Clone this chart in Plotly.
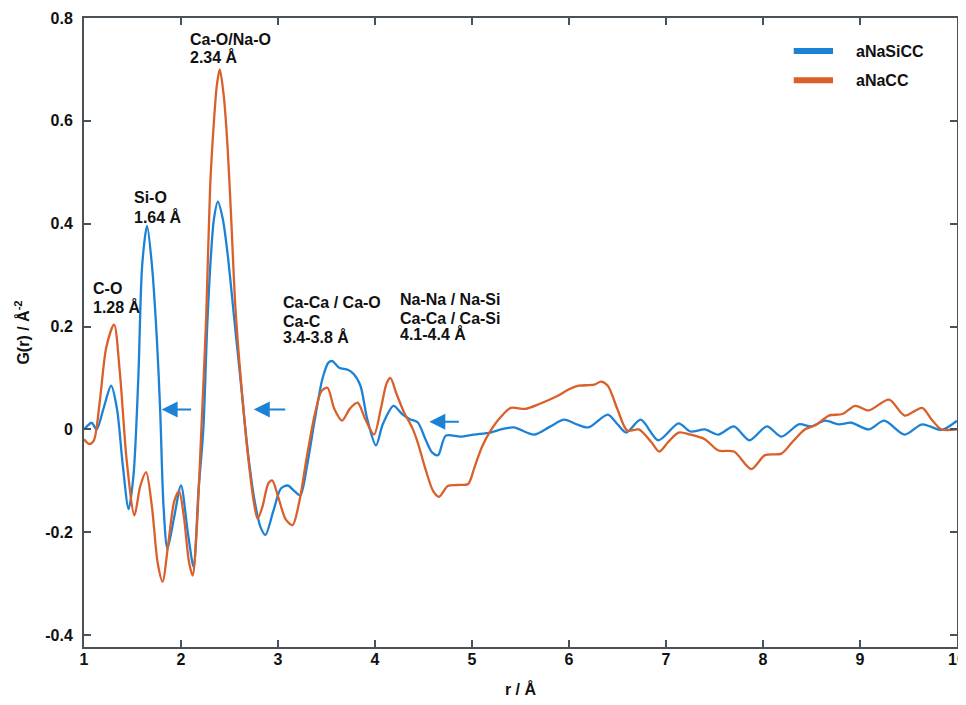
import plotly.graph_objects as go

# aNaCC (orange)
r_nacc = [1.00, 1.05, 1.10, 1.16, 1.23, 1.31, 1.37, 1.44, 1.52, 1.58, 1.64, 1.70, 1.76, 1.81, 1.87, 1.93, 1.98,
          2.03, 2.08, 2.12, 2.16, 2.21, 2.26, 2.30, 2.34, 2.37, 2.40, 2.44, 2.48, 2.52, 2.56, 2.62, 2.69, 2.75, 2.79,
          2.84, 2.90, 2.94, 3.00, 3.08, 3.15, 3.22, 3.30, 3.38, 3.45, 3.51, 3.58, 3.66, 3.74, 3.82, 3.90,
          3.99, 4.06, 4.12, 4.16, 4.22, 4.30, 4.38, 4.44, 4.52, 4.60, 4.66, 4.75, 4.85, 4.96, 5.02, 5.10,
          5.20, 5.30, 5.40, 5.55, 5.70, 5.88, 6.00, 6.10, 6.26, 6.33, 6.40, 6.50, 6.60, 6.72, 6.85, 6.93,
          7.02, 7.13, 7.25, 7.40, 7.54, 7.70, 7.88, 8.02, 8.19, 8.30, 8.43, 8.54, 8.68, 8.82, 8.95, 9.09,
          9.30, 9.46, 9.64, 9.74, 9.84, 10.0]
g_nacc = [-0.019, -0.028, -0.022, 0.050, 0.160, 0.204, 0.110, -0.060, -0.167, -0.110, -0.083, -0.150, -0.260, -0.296, -0.220, -0.140, -0.120,
          -0.170, -0.255, -0.284, -0.200, 0.000, 0.220, 0.470, 0.600, 0.670, 0.700, 0.650, 0.550, 0.400, 0.240, 0.090, -0.050, -0.140, -0.174,
          -0.150, -0.105, -0.099, -0.130, -0.175, -0.186, -0.140, -0.050, 0.030, 0.075, 0.081, 0.040, 0.017, 0.040, 0.052, 0.020,
          -0.010, 0.040, 0.090, 0.100, 0.070, 0.033, 0.005, -0.025, -0.077, -0.120, -0.131, -0.110, -0.108, -0.106, -0.077, -0.035,
          0.000, 0.025, 0.042, 0.040, 0.050, 0.065, 0.078, 0.085, 0.087, 0.093, 0.085, 0.039, -0.002, 0.000, -0.025, -0.043,
          -0.025, -0.006, -0.010, -0.019, -0.041, -0.043, -0.077, -0.050, -0.047, -0.025, 0.000, 0.008, 0.027, 0.030, 0.046, 0.037,
          0.058, 0.027, 0.042, 0.019, 0.000, 0.000]

# aNaSiCC (blue)
r_nasicc = [1.00, 1.04, 1.08, 1.13, 1.20, 1.28, 1.34, 1.40, 1.46, 1.51, 1.56, 1.60, 1.65, 1.70, 1.75, 1.785,
            1.82, 1.86, 1.93, 2.00, 2.07, 2.13, 2.18, 2.23, 2.27, 2.31, 2.34, 2.38, 2.43, 2.48, 2.55, 2.62, 2.69, 2.76,
            2.82, 2.87, 2.95, 3.03, 3.10, 3.17, 3.23, 3.30, 3.38, 3.46, 3.52, 3.56, 3.63, 3.72, 3.78, 3.85, 3.92,
            4.01, 4.08, 4.19, 4.28, 4.36, 4.44, 4.52, 4.59, 4.65, 4.73, 4.88, 5.02, 5.19, 5.30, 5.43, 5.64,
            5.80, 5.95, 6.08, 6.20, 6.40, 6.50, 6.59, 6.74, 6.92, 7.13, 7.25, 7.40, 7.54, 7.70, 7.86, 8.04,
            8.19, 8.37, 8.50, 8.64, 8.78, 8.91, 9.09, 9.25, 9.46, 9.64, 9.84, 10.0]
g_nasicc = [0.000, 0.008, 0.013, 0.000, 0.040, 0.085, 0.040, -0.070, -0.155, -0.090, 0.100, 0.320, 0.396, 0.320, 0.180, 0.039,
            -0.150, -0.232, -0.170, -0.109, -0.200, -0.267, -0.120, 0.000, 0.200, 0.342, 0.410, 0.443, 0.410, 0.342, 0.213, 0.085, -0.045, -0.140,
            -0.190, -0.205, -0.160, -0.115, -0.109, -0.120, -0.128, -0.070, 0.020, 0.100, 0.130, 0.133, 0.120, 0.116, 0.108, 0.085, 0.020,
            -0.031, 0.010, 0.046, 0.030, 0.020, 0.014, -0.019, -0.045, -0.050, -0.012, -0.014, -0.010, -0.006, 0.000, 0.004, -0.010,
            0.005, 0.019, 0.010, 0.004, 0.029, 0.010, -0.006, 0.019, -0.021, 0.012, -0.004, 0.000, -0.010, 0.006, -0.021, 0.006,
            -0.014, 0.010, 0.006, 0.017, 0.010, 0.013, 0.000, 0.017, -0.010, 0.010, -0.001, 0.017]

x_ticks = [1, 2, 3, 4, 5, 6, 7, 8, 9, 10]
y_ticks = [-0.4, -0.2, 0, 0.2, 0.4, 0.6, 0.8]
y_tick_labels = ["-0.4", "-0.2", "0", "0.2", "0.4", "0.6", "0.8"]

series_names = ["aNaSiCC", "aNaCC"]
BLUE = "#1b82d6"
ORANGE = "#d9602a"
FONT = "Liberation Sans, Arial"

# labels: (text, r, G) — left-aligned, vertically centred
peak_labels = [
    ("C-O", 1.07, 0.275), ("1.28 Å", 1.07, 0.238),
    ("Si-O", 1.49, 0.451), ("1.64 Å", 1.49, 0.414),
    ("Ca-O/Na-O", 2.075, 0.759), ("2.34 Å", 2.075, 0.724),
    ("Ca-Ca / Ca-O", 3.03, 0.247), ("Ca-C", 3.03, 0.210), ("3.4-3.8 Å", 3.03, 0.180),
    ("Na-Na / Na-Si", 4.24, 0.253), ("Ca-Ca / Ca-Si", 4.24, 0.216), ("4.1-4.4 Å", 4.24, 0.186),
]
# arrows: (head r, tail r, G)
arrows = [(1.80, 2.12, 0.039), (2.75, 3.09, 0.039), (4.56, 4.88, 0.015)]

fig = go.Figure()
fig.add_trace(go.Scatter(x=r_nasicc, y=g_nasicc, mode="lines", name=series_names[0],
                         line=dict(color=BLUE, width=2.3, shape="spline", smoothing=0.8)))
fig.add_trace(go.Scatter(x=r_nacc, y=g_nacc, mode="lines", name=series_names[1],
                         line=dict(color=ORANGE, width=2.3, shape="spline", smoothing=0.8)))

for txt, rx, gy in peak_labels:
    fig.add_annotation(x=rx, y=gy, text=txt, showarrow=False, xanchor="left", yanchor="middle",
                       font=dict(family=FONT, size=16, color="#111", weight="bold"))

for head, tail, gy in arrows:
    fig.add_annotation(x=head, y=gy, ax=tail, ay=gy, axref="x", ayref="y", xref="x", yref="y",
                       text="", showarrow=True, arrowhead=2, arrowsize=1.6, arrowwidth=2,
                       arrowcolor=BLUE, standoff=0)

# manual legend (thick sample line + bold name)
legend_rows = [(0.9475, BLUE), (0.901, ORANGE)]
for name, (ly, col) in zip(series_names, legend_rows):
    fig.add_shape(type="line", xref="paper", yref="paper", x0=0.813, x1=0.858, y0=ly, y1=ly,
                  line=dict(color=col, width=6))
    fig.add_annotation(xref="paper", yref="paper", x=0.882, y=ly, text=name, showarrow=False,
                       xanchor="left", yanchor="middle",
                       font=dict(family=FONT, size=16, color="#111", weight="bold"))

axis_common = dict(showline=True, mirror="ticks", linecolor="#4a5258", linewidth=2,
                   ticks="inside", ticklen=7, tickwidth=2, tickcolor="#4a5258",
                   showgrid=False, zeroline=False, automargin=False,
                   tickfont=dict(family=FONT, size=16, color="#111", weight="bold"))

fig.update_xaxes(range=[1, 10], tickvals=x_ticks, ticklabelstandoff=-3,
                 title=dict(text="r / Å", standoff=17,
                            font=dict(family=FONT, size=16, color="#111", weight="bold")),
                 **axis_common)
fig.update_yaxes(range=[-0.423, 0.8], tickvals=y_ticks, ticktext=y_tick_labels, ticklabelstandoff=6,
                 title=dict(text="G(r) / Å<sup>-2</sup>", standoff=12,
                            font=dict(family=FONT, size=16, color="#111", weight="bold")),
                 **axis_common)

fig.update_layout(
    width=958, height=697,
    margin=dict(l=76, r=9, t=10, b=58),
    plot_bgcolor="white", paper_bgcolor="white",
    showlegend=False,
)

fig.write_html("out.html")
